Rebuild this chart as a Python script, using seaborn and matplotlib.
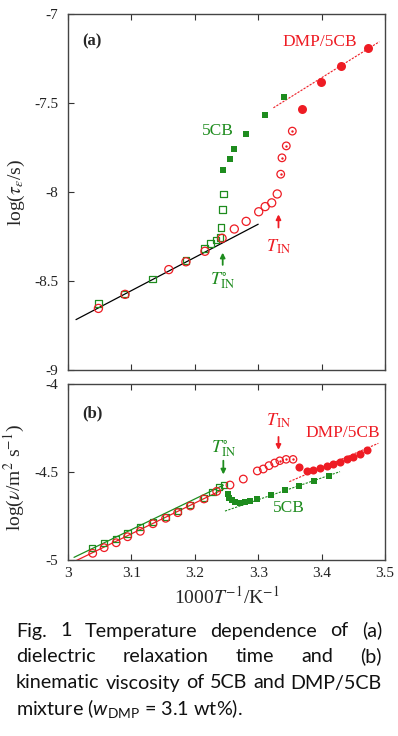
import numpy as np
import pandas as pd
import matplotlib
matplotlib.use("Agg")
import matplotlib.pyplot as plt
from matplotlib.ticker import FuncFormatter, MultipleLocator
import seaborn as sns

sns.set_theme(style="ticks")
plt.rcParams['font.family'] = ['Liberation Serif', 'DejaVu Serif']
plt.rcParams['mathtext.fontset'] = 'stix'
plt.rcParams['mathtext.rm'] = 'Lato'
plt.rcParams['mathtext.it'] = 'Lato:italic'
plt.rcParams['mathtext.bf'] = 'Lato:bold'

SERIF = 'Liberation Serif'
RED = '#ee1c24'
GREEN = '#1e8c1e'

# ---- panel (a): log(tau_eps / s) vs 1000/T ----
a_5cb_open_x = [3.048, 3.089, 3.133, 3.186, 3.2156, 3.2245, 3.2335, 3.2395, 3.2415, 3.2434, 3.2455]
a_5cb_open_y = [-8.625, -8.572, -8.490, -8.386, -8.318, -8.290, -8.269, -8.255, -8.199, -8.097, -8.010]
a_5cb_fill_x = [3.245, 3.2555, 3.2618, 3.2808, 3.3112, 3.3412]
a_5cb_fill_y = [-7.874, -7.817, -7.759, -7.675, -7.568, -7.468]
a_mix_open_x = [3.048, 3.090, 3.159, 3.186, 3.216, 3.243, 3.2623, 3.281, 3.3008, 3.311, 3.3213, 3.330]
a_mix_open_y = [-8.654, -8.575, -8.436, -8.392, -8.333, -8.260, -8.208, -8.165, -8.111, -8.082, -8.061, -8.011]
a_mix_dot_x = [3.3355, 3.3375, 3.3443, 3.3538]
a_mix_dot_y = [-7.900, -7.808, -7.741, -7.658]
a_mix_fill_x = [3.369, 3.399, 3.431, 3.4737]
a_mix_fill_y = [-7.536, -7.382, -7.291, -7.190]
a_fit_iso_x = [3.0126, 3.300]
a_fit_iso_y = [-8.717, -8.181]
a_fit_mix_x = [3.324, 3.491]
a_fit_mix_y = [-7.527, -7.156]

# ---- panel (b): log(nu / m2 s-1) vs 1000/T ----
b_5cb_open_x = [3.038, 3.057, 3.076, 3.094, 3.114, 3.134, 3.154, 3.173, 3.193, 3.214, 3.228, 3.238, 3.246]
b_5cb_open_y = [-4.930, -4.905, -4.879, -4.849, -4.814, -4.782, -4.754, -4.722, -4.689, -4.648, -4.612, -4.585, -4.575]
b_5cb_fill_x = [3.252, 3.2545, 3.258, 3.2634, 3.271, 3.279, 3.287, 3.2976, 3.3197, 3.3428, 3.3644, 3.3885, 3.411]
b_5cb_fill_y = [-4.627, -4.650, -4.659, -4.672, -4.678, -4.670, -4.665, -4.655, -4.633, -4.604, -4.581, -4.551, -4.521]
b_mix_open_x = [3.039, 3.057, 3.076, 3.094, 3.114, 3.134, 3.154, 3.173, 3.193, 3.2145, 3.2345,
                3.2555, 3.2765, 3.2986, 3.308, 3.317, 3.326]
b_mix_open_y = [-4.962, -4.930, -4.902, -4.868, -4.837, -4.794, -4.763, -4.731, -4.693, -4.653, -4.610,
                -4.574, -4.540, -4.494, -4.483, -4.464, -4.449]
b_mix_dot_x = [3.334, 3.344, 3.355]
b_mix_dot_y = [-4.436, -4.428, -4.428]
b_mix_fill_x = [3.3644, 3.3765, 3.387, 3.3975, 3.408, 3.4185, 3.429, 3.4396, 3.450, 3.4606, 3.471]
b_mix_fill_y = [-4.470, -4.494, -4.487, -4.479, -4.466, -4.455, -4.443, -4.428, -4.415, -4.400, -4.375]
b_fit_5cb_iso_x = [3.0095, 3.245]
b_fit_5cb_iso_y = [-4.985, -4.575]
b_fit_mix_iso_x = [3.0126, 3.245]
b_fit_mix_iso_y = [-5.004, -4.598]
b_fit_5cb_x = [3.2476, 3.429]
b_fit_5cb_y = [-4.722, -4.498]
b_fit_mix_x = [3.349, 3.4895]
b_fit_mix_y = [-4.555, -4.337]

caption = [
    "Fig. 1 Temperature dependence of (a)",
    "dielectric relaxation time and (b)",
    "kinematic viscosity of 5CB and DMP/5CB",
]
caption_last = "mixture ($w_{\\mathrm{DMP}}$ = 3.1 wt%)."


def fmt(v, pos):
    return f"{v:g}"


def pts(ax, x, y, color, marker, s, open_=False, lw=0.9):
    if open_:
        sns.scatterplot(x=x, y=y, ax=ax, marker=marker, s=s, color=color,
                        facecolor='none', edgecolor=color, linewidth=lw, zorder=3)
    else:
        sns.scatterplot(x=x, y=y, ax=ax, marker=marker, s=s, color=color,
                        edgecolor=color, linewidth=0, zorder=3)


def dotted(ax, x, y, s):
    pts(ax, x, y, RED, 'o', s, open_=True)
    sns.scatterplot(x=x, y=y, ax=ax, marker='o', s=3, color=RED, linewidth=0, zorder=4)


def line(ax, x, y, color, ls='-', lw=0.9):
    sns.lineplot(x=x, y=y, ax=ax, color=color, linestyle=ls, linewidth=lw, zorder=2)


def style_axes(ax, ylim, yticks):
    ax.set_xlim(3, 3.5)
    ax.set_ylim(*ylim)
    ax.set_yticks(yticks)
    ax.xaxis.set_major_locator(MultipleLocator(0.1))
    ax.xaxis.set_major_formatter(FuncFormatter(fmt))
    ax.yaxis.set_major_formatter(FuncFormatter(fmt))
    ax.tick_params(direction='in', length=4, width=0.8, color='#333333',
                   top=True, labelsize=11, labelcolor='#222222')
    ax.tick_params(axis='y', pad=7)
    ax.tick_params(axis='x', pad=5)
    for lab in ax.get_xticklabels() + ax.get_yticklabels():
        lab.set_fontfamily(SERIF)
    for sp in ax.spines.values():
        sp.set_color('#444444')
        sp.set_linewidth(1.0)
        sp.set_visible(True)


fig = plt.figure(figsize=(3.98, 7.36), dpi=100)
W, H = 398, 736
ax_a = fig.add_axes([68 / W, 1 - 370 / H, 317 / W, 356 / H])
ax_b = fig.add_axes([68 / W, 1 - 560 / H, 317 / W, 176 / H])

# panel (a)
line(ax_a, a_fit_iso_x, a_fit_iso_y, 'black')
line(ax_a, a_fit_mix_x, a_fit_mix_y, RED, ls=(0, (2, 1.2)), lw=0.8)
pts(ax_a, a_5cb_open_x, a_5cb_open_y, GREEN, 's', 22, open_=True)
pts(ax_a, a_5cb_fill_x, a_5cb_fill_y, GREEN, 's', 22)
pts(ax_a, a_mix_open_x, a_mix_open_y, RED, 'o', 34, open_=True)
dotted(ax_a, a_mix_dot_x, a_mix_dot_y, 30)
pts(ax_a, a_mix_fill_x, a_mix_fill_y, RED, 'o', 42)
style_axes(ax_a, (-9, -7), [-9, -8.5, -8, -7.5, -7])
ax_a.tick_params(labelbottom=False)
ax_a.set_xlabel('')
ax_a.set_ylabel(r"log($\tau_{\varepsilon}$/s)", fontsize=14, family=SERIF)
ax_a.yaxis.set_label_coords(-0.13, 0.5)

ax_a.text(3.038, -7.156, "(a)", fontsize=12, fontweight='bold', family=SERIF, ha='center', va='center')
ax_a.text(3.397, -7.156, "DMP/5CB", fontsize=12.5, family=SERIF, color=RED, ha='center', va='center')
ax_a.text(3.2366, -7.658, "5CB", fontsize=12.5, family=SERIF, color=GREEN, ha='center', va='center')
ax_a.annotate("", xy=(3.244, -8.325), xytext=(3.244, -8.425),
              arrowprops=dict(arrowstyle='-|>', color=GREEN, lw=1.3, mutation_scale=7))
ax_a.text(3.244, -8.50, r"$T_{\mathrm{IN}}^{\circ}$", fontsize=13, color=GREEN, ha='center', va='center')
ax_a.annotate("", xy=(3.332, -8.11), xytext=(3.332, -8.215),
              arrowprops=dict(arrowstyle='-|>', color=RED, lw=1.3, mutation_scale=7))
ax_a.text(3.332, -8.31, r"$T_{\mathrm{IN}}$", fontsize=13, color=RED, ha='center', va='center')

# panel (b)
line(ax_b, b_fit_5cb_iso_x, b_fit_5cb_iso_y, GREEN)
line(ax_b, b_fit_mix_iso_x, b_fit_mix_iso_y, RED)
line(ax_b, b_fit_5cb_x, b_fit_5cb_y, GREEN, ls=(0, (2, 1.2)), lw=0.8)
line(ax_b, b_fit_mix_x, b_fit_mix_y, RED, ls=(0, (2, 1.2)), lw=0.8)
pts(ax_b, b_5cb_open_x, b_5cb_open_y, GREEN, 's', 20, open_=True)
pts(ax_b, b_5cb_fill_x, b_5cb_fill_y, GREEN, 's', 18)
pts(ax_b, b_mix_open_x, b_mix_open_y, RED, 'o', 30, open_=True)
dotted(ax_b, b_mix_dot_x, b_mix_dot_y, 28)
pts(ax_b, b_mix_fill_x, b_mix_fill_y, RED, 'o', 34)
style_axes(ax_b, (-5, -4), [-5, -4.5, -4])
ax_b.set_ylabel(r"log($\nu$/m$^2$ s$^{-1}$)", fontsize=14, family=SERIF)
ax_b.yaxis.set_label_coords(-0.13, 0.47)
ax_b.set_xlabel(r"1000$T^{-1}$/K$^{-1}$", fontsize=14, family=SERIF, labelpad=4)

ax_b.text(3.038, -4.167, "(b)", fontsize=12, fontweight='bold', family=SERIF, ha='center', va='center')
ax_b.text(3.433, -4.28, "DMP/5CB", fontsize=12.5, family=SERIF, color=RED, ha='center', va='center')
ax_b.text(3.349, -4.706, "5CB", fontsize=12.5, family=SERIF, color=GREEN, ha='center', va='center')
ax_b.annotate("", xy=(3.245, -4.53), xytext=(3.245, -4.42),
              arrowprops=dict(arrowstyle='-|>', color=GREEN, lw=1.3, mutation_scale=7))
ax_b.text(3.245, -4.365, r"$T_{\mathrm{IN}}^{\circ}$", fontsize=13, color=GREEN, ha='center', va='center')
ax_b.annotate("", xy=(3.332, -4.39), xytext=(3.332, -4.285),
              arrowprops=dict(arrowstyle='-|>', color=RED, lw=1.3, mutation_scale=7))
ax_b.text(3.332, -4.21, r"$T_{\mathrm{IN}}$", fontsize=13, color=RED, ha='center', va='center')

# caption, justified like the paper; size chosen so the 3rd line fills the width
renderer = fig.canvas.get_renderer()
x0, x1 = 16, 382
probe = fig.text(0, 0, caption[2], fontsize=12, family='Lato')
size = 12 * (x1 - x0) / probe.get_window_extent(renderer).width * 0.985
probe.remove()
cap_kw = dict(fontsize=size, family='Lato', color='#111111', va='baseline', ha='left',
              math_fontfamily='custom')
baselines = [636.5, 662.5, 688.5, 714.5]
for text_line, yb in zip(caption, baselines):
    words = text_line.split()
    objs = [fig.text(0, 1 - yb / H, w, **cap_kw) for w in words]
    widths = [o.get_window_extent(renderer).width for o in objs]
    gap = (x1 - x0 - sum(widths)) / (len(words) - 1)
    xp = x0
    for o, wd in zip(objs, widths):
        o.set_x(xp / W)
        xp += wd + gap
fig.text(x0 / W, 1 - baselines[3] / H, caption_last, **cap_kw)

fig.savefig("out.png", dpi=100)
